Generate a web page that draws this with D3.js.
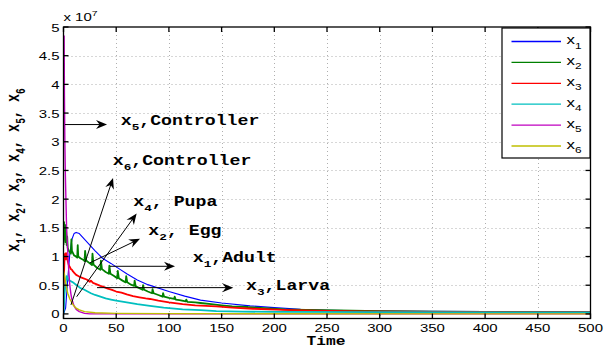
<!DOCTYPE html>
<html><head><meta charset="utf-8">
<script src="https://cdn.jsdelivr.net/npm/d3@7"></script>
<style>body{margin:0;background:#fff}svg{display:block}</style>
</head><body><svg id="c" width="605" height="349"></svg>
<script>
// ---------- data (values in units of 1e7) ----------
const xTicks = [0,50,100,150,200,250,300,350,400,450,500];
const yTicks = [0,0.5,1,1.5,2,2.5,3,3.5,4,4.5,5];
const yTickLabels = ["0","0.5","1","1.5","2","2.5","3","3.5","4","4.5","5"];
const seriesNames = ["1","2","3","4","5","6"];
const seriesColors = ["#0000ff","#008000","#ff0000","#00bfbf","#bf00bf","#bfbf00"];

const adultT = [0,2,4,6,8,10,12,15,20,25,30,37,45,50,60,70,80,100,115,130,150,177,200,225,250,300,350,400,500];
const adultV = [0,0.1,0.6,1.05,1.3,1.4,1.42,1.4,1.3,1.2,1.1,0.97,0.88,0.82,0.7,0.59,0.51,0.39,0.31,0.24,0.19,0.14,0.11,0.08,0.065,0.05,0.045,0.04,0.04];

const eggT = [0,0.5,1,1.5,2,2.5,3,3.5,4,5,6,7,7.5,8,10,12,13,13.5,14,16,19,20,20.5,21.5,25,27,27.5,28.5,32,35,35.5,36.5,40,43,43.5,44.5,48,51,51.5,52.5,56,59,59.5,60.5,64,67,67.5,68.5,72,75,75.5,76.5,80,84,84.5,85.5,90,94,94.5,95.5,100,105,105.5,106.5,110,116,116.5,117.5,125,130,140,150,160,175,190,210,230,260,300,350,400,500];
const eggV = [1.2,1.6,1.3,1.55,1.25,1.5,1.2,1.35,1.15,1.1,1.08,1.05,1.3,1.1,1.02,1.0,0.98,1.2,1.0,0.97,0.94,0.92,1.1,0.93,0.88,0.85,1.05,0.86,0.8,0.77,0.93,0.78,0.73,0.7,0.84,0.7,0.66,0.62,0.75,0.62,0.58,0.55,0.66,0.55,0.51,0.49,0.58,0.48,0.45,0.42,0.5,0.42,0.39,0.36,0.43,0.36,0.33,0.3,0.36,0.3,0.28,0.26,0.3,0.25,0.24,0.22,0.25,0.21,0.2,0.19,0.17,0.15,0.13,0.12,0.1,0.08,0.07,0.06,0.05,0.04,0.035,0.03];

const larvaT = [0,0.5,1,1.5,2,2.5,3,4,5,6,7,8,9,10,12,14,16,19,22,25,26,28,31,35,38,42,46,50,55,60,66,72,78,82,90,100,113,125,145,160,180,208,240,280,350,500];
const larvaV = [0.2,0.7,1.0,1.05,0.95,1.06,1.0,0.92,0.85,0.82,0.78,0.77,0.74,0.72,0.68,0.66,0.64,0.62,0.6,0.56,0.58,0.54,0.52,0.49,0.47,0.44,0.42,0.39,0.37,0.34,0.31,0.29,0.27,0.26,0.23,0.2,0.17,0.15,0.13,0.11,0.09,0.07,0.055,0.045,0.035,0.03];

const pupaT = [0,0.5,1,2,3,4,5,7,9,11,14,16,19,22,26,30,35,40,45,50,60,70,82,95,113,130,145,170,200,300,500];
const pupaV = [0,0.15,0.35,0.55,0.66,0.62,0.58,0.57,0.55,0.52,0.48,0.45,0.43,0.4,0.36,0.33,0.3,0.27,0.25,0.23,0.2,0.17,0.14,0.11,0.08,0.065,0.05,0.04,0.035,0.03,0.025];

const ctrl5T = [0.6,0.9,1.3,1.8,2.3,3,4,5,6,7,8,10,12,15,20,25,500];
const ctrl5V = [4.85,3.8,3.0,2.4,2.0,1.45,1.1,0.75,0.5,0.35,0.25,0.14,0.08,0.04,0.01,0,0];

const ctrl6T = [0,1,2,3,4,6,9,12,15,20,30,50,100,500];
const ctrl6V = [0.75,0.68,0.55,0.45,0.36,0.26,0.16,0.1,0.07,0.04,0.02,0.01,0.005,0];

// annotations
const annoText = [["x","5",",Controller"],["x","6",",Controller"],["x","4",",  Pupa"],["x","2",",  Egg"],["x","1",",Adult"],["x","3",",Larva"]];
const annoPos  = [[54.3,3.29],[46.7,2.60],[66.2,1.88],[80.5,1.376],[122.6,0.91],[173.2,0.42]];
const arrowTail = [[1.4,3.30],[7.1,0.157],[12.5,0.30],[25.1,0.89],[44.1,0.83],[31.8,0.458]];
const arrowTip  = [[41.3,3.30],[47,2.37],[69.4,1.75],[72.6,1.31],[105.8,0.83],[161.1,0.458]];

// ---------- drawing ----------
const SX = 1.3;
const svg = d3.select("#c");
const L=63.5, R=590.5, T=27, B=318.5;
const x = d3.scaleLinear([0,500],[L,R]);
const y = d3.scaleLinear([-0.08,5],[B,T]);

svg.append("rect").attr("width",605).attr("height",349).attr("fill","#fff");

// grid
const grid = svg.append("g").attr("stroke","#9a9a9a").attr("stroke-width",0.8).attr("stroke-dasharray","1,3");
xTicks.filter(d=>d>0&&d<500).forEach(d=>grid.append("line").attr("x1",Math.round(x(d))+0.5).attr("x2",Math.round(x(d))+0.5).attr("y1",T).attr("y2",B));
yTicks.filter(d=>d>0&&d<5).forEach(d=>grid.append("line").attr("y1",Math.round(y(d))+0.5).attr("y2",Math.round(y(d))+0.5).attr("x1",L).attr("x2",R));

// lines
svg.append("defs").append("clipPath").attr("id","clip").append("rect").attr("x",L).attr("y",T).attr("width",R-L).attr("height",B-T);
const series = [[adultT,adultV,1.1],[eggT,eggV,1.8],[larvaT,larvaV,1.8],[pupaT,pupaV,1.8],[ctrl5T,ctrl5V,1.4],[ctrl6T,ctrl6V,1.4]];
const line = d3.line().x(d=>x(d[0])).y(d=>y(d[1]));
const lg = svg.append("g").attr("clip-path","url(#clip)");
series.forEach((s,i)=>{
  const pts = s[0].map((t,j)=>[t,s[1][j]]);
  lg.append("path").attr("d",line(pts)).attr("fill","none").attr("stroke",seriesColors[i]).attr("stroke-width",s[2]).attr("stroke-linejoin","round");
});

// axes box & ticks
const ax = svg.append("g").attr("stroke","#000").attr("stroke-width",1.3).attr("fill","none");
ax.append("rect").attr("x",L).attr("y",T).attr("width",R-L).attr("height",B-T);
xTicks.forEach(d=>{
  ax.append("line").attr("x1",x(d)).attr("x2",x(d)).attr("y1",B).attr("y2",B-5);
  ax.append("line").attr("x1",x(d)).attr("x2",x(d)).attr("y1",T).attr("y2",T+5);
});
yTicks.forEach(d=>{
  ax.append("line").attr("y1",y(d)).attr("y2",y(d)).attr("x1",L).attr("x2",L+5);
  ax.append("line").attr("y1",y(d)).attr("y2",y(d)).attr("x1",R).attr("x2",R-5);
});

function stext(px,py,anchor,size,family,weight,parts,rot){
  const g = svg.append("g").attr("transform",`translate(${px},${py}) scale(${SX},1)`+(rot?` rotate(${rot})`:""));
  const t = g.append("text").attr("text-anchor",anchor).attr("font-size",size).attr("font-family",family).attr("font-weight",weight).attr("fill","#000");
  parts.forEach(p=>{
    const ts = t.append("tspan").text(p[0]);
    if(p[1]) ts.attr("font-size",size*0.7).attr("dy",size*0.35);
    else if(p[2]) ts.attr("dy",-size*0.35);
    else if(p[3]) ts.attr("font-size",size*0.7).attr("dy",-size*0.45);
  });
  return t;
}
const SANS="'Liberation Sans', Arial, sans-serif", MONO="'Liberation Mono','Courier New',monospace";

// tick labels
xTicks.forEach(d=>stext(x(d),332,"middle",11.5,SANS,"normal",[[String(d)]]));
yTicks.forEach((d,i)=>stext(59.5,y(d)+4.5,"end",11.5,SANS,"normal",[[yTickLabels[i]]]));
// exponent
stext(63.5,21,"start",11.5,SANS,"normal",[["x 10"],["7",false,false,true]]);

// axis labels
stext(326,345,"middle",12.5,MONO,"bold",[["Time"]]);
const yl=[]; for(let i=0;i<6;i++){ yl.push(["x"]); yl.push([seriesNames[i],true]); if(i<5) yl.push([", ",false,true]); }
stext(18.5,170,"middle",13.5,MONO,"bold",yl,-90);

// annotations
const ag = svg.append("g");
annoText.forEach((a,i)=>{
  stext(x(annoPos[i][0]),y(annoPos[i][1]),"start",14,MONO,"bold",[[a[0]],[a[1],true],[a[2],false,true]]);
  const x0=x(arrowTail[i][0]), y0=y(arrowTail[i][1]), x1=x(arrowTip[i][0]), y1=y(arrowTip[i][1]);
  const ang = Math.atan2(y1-y0,x1-x0);
  ag.append("line").attr("x1",x0).attr("y1",y0).attr("x2",x1-Math.cos(ang)*6).attr("y2",y1-Math.sin(ang)*6).attr("stroke","#000").attr("stroke-width",1);
  ag.append("path").attr("d","M0,0 L-11,-4.5 L-7.5,0 L-11,4.5 Z").attr("fill","#000")
    .attr("transform",`translate(${x1},${y1}) rotate(${ang*180/Math.PI})`);
});

// legend
const lx=502, ly=28, lw=88, lh=130;
svg.append("rect").attr("x",lx).attr("y",ly).attr("width",lw).attr("height",lh).attr("fill","#fff").attr("stroke","#000").attr("stroke-width",1.2);
seriesNames.forEach((n,i)=>{
  const yy = 41.5 + i*20.9;
  svg.append("line").attr("x1",511.5).attr("x2",561).attr("y1",yy).attr("y2",yy).attr("stroke",seriesColors[i]).attr("stroke-width",1.3);
  stext(566.5,yy+2.5,"start",13,SANS,"normal",[["x"],[n,true]]);
});
</script></body></html>
